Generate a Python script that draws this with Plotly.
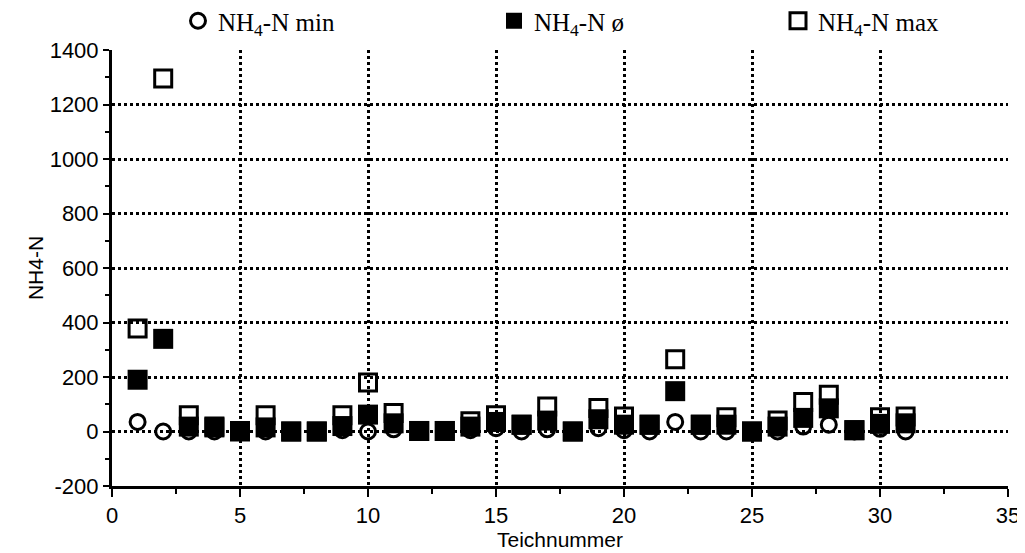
import plotly.graph_objects as go

# Teichnummer 1..31
teich = list(range(1, 32))

nh4_min = [35, 0, 0, 0, 0, 0, 0, 0, 5, 0,
           8, 0, 0, 5, 12, 0, 8, 0, 12, 5,
           0, 35, 0, 0, 0, 0, 18, 25, 0, 10,
           0]
nh4_mean = [190, 340, 18, 15, 0, 15, 0, 0, 20, 62,
            30, 2, 2, 18, 35, 25, 40, 0, 45, 25,
            25, 148, 25, 25, 0, 18, 50, 85, 5, 28,
            30]
nh4_max = [378, 1295, 60, 18, 2, 60, 0, 0, 60, 180,
           68, 2, 2, 38, 60, 25, 92, 0, 86, 55,
           25, 265, 25, 52, 0, 40, 108, 135, 5, 52,
           55]

y_ticks = [-200, 0, 200, 400, 600, 800, 1000, 1200, 1400]
y_ticktext = ["-200", "0", "200", "400", "600", "800", "1000", "1200", "1400"]

legend_font = dict(family="Liberation Serif, Times New Roman, serif", size=25, color="black")
tick_font = dict(family="Liberation Sans, Arial, sans-serif", size=22, color="black")
title_font = dict(family="Liberation Sans, Arial, sans-serif", size=21, color="black")

# the page body adds an 8px offset, so the figure is sized to fit inside the window
W, H = 1017, 545
OFF = 8

fig = go.Figure()

fig.add_trace(go.Scatter(
    x=teich, y=nh4_min, mode="markers", name="NH<sub>4</sub>-N min",
    marker=dict(symbol="circle-open", size=15, color="black", line=dict(width=3)),
    legend="legend",
))
fig.add_trace(go.Scatter(
    x=teich, y=nh4_mean, mode="markers", name="NH<sub>4</sub>-N ø",
    marker=dict(symbol="square", size=20, color="black", line=dict(width=0)),
    legend="legend2",
))
fig.add_trace(go.Scatter(
    x=teich, y=nh4_max, mode="markers", name="NH<sub>4</sub>-N max",
    marker=dict(symbol="square-open", size=17, color="black", line=dict(width=3)),
    legend="legend3",
))


def _legend(px):
    return dict(
        x=(px - OFF - 19) / W, y=1 - (21 - OFF) / H, xref="container", yref="container",
        xanchor="left", yanchor="middle", orientation="h",
        font=legend_font, bgcolor="rgba(0,0,0,0)", itemwidth=30,
    )


fig.update_layout(
    width=W,
    height=H,
    margin=dict(l=112 - OFF, r=W - (1008 - OFF), t=50 - OFF, b=H - (486 - OFF), autoexpand=False),
    plot_bgcolor="white",
    paper_bgcolor="white",
    showlegend=True,
    legend=_legend(197),
    legend2=_legend(513),
    legend3=_legend(797),
)

fig.update_xaxes(
    range=[0, 35], dtick=5, tick0=0,
    showline=True, linecolor="black", linewidth=3,
    ticks="outside", ticklen=8, tickwidth=2, tickcolor="black",
    minor=dict(dtick=2.5, ticks="outside", ticklen=5, tickwidth=2, tickcolor="black", showgrid=False),
    showgrid=True, gridcolor="black", gridwidth=3, griddash="dot",
    zeroline=False, tickfont=tick_font,
    title=dict(text="Teichnummer", font=title_font, standoff=0),
)
fig.update_yaxes(
    range=[-200, 1400], tickvals=y_ticks, ticktext=y_ticktext,
    showline=True, linecolor="black", linewidth=3,
    ticks="outside", ticklen=6, tickwidth=2, tickcolor="black",
    minor=dict(dtick=100, ticks="outside", ticklen=4, tickwidth=2, tickcolor="black", showgrid=False),
    showgrid=True, gridcolor="black", gridwidth=3, griddash="dot",
    zeroline=False, tickfont=tick_font,
    title=dict(text="NH4-N", font=title_font, standoff=1),
)

fig.write_html("out.html")
